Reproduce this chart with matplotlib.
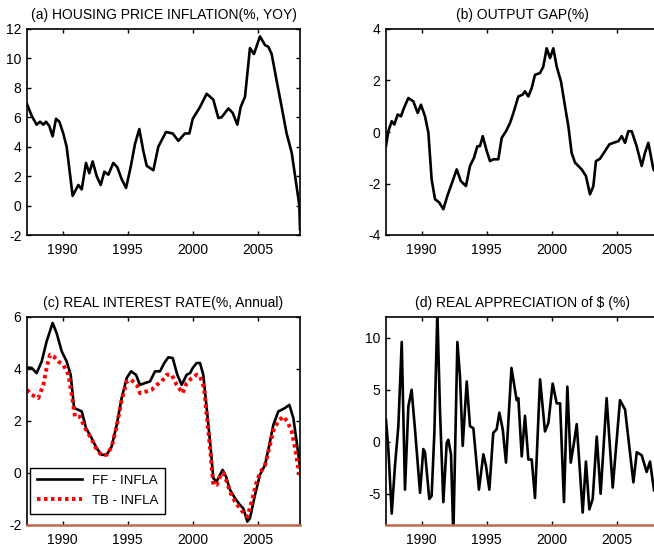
import numpy as np
import matplotlib
matplotlib.use("Agg")
import matplotlib.pyplot as plt

plt.rcParams["font.family"] = ["Liberation Sans", "DejaVu Sans"]
plt.rcParams["axes.unicode_minus"] = False

# (a) housing price inflation
a_years = [1987.25, 1987.61, 1987.99, 1988.25, 1988.51, 1988.71, 1988.97, 1989.22, 1989.48, 1989.74,
           1990.04, 1990.3, 1990.76, 1991.2, 1991.46, 1991.79, 1992.04, 1992.3, 1992.61, 1992.92,
           1993.2, 1993.51, 1993.89, 1994.2, 1994.53, 1994.87, 1995.22, 1995.56, 1995.89, 1996.2,
           1996.46, 1996.97, 1997.35, 1997.94, 1998.46, 1998.89, 1999.4, 1999.74, 2000.0, 2000.56,
           2001.07, 2001.58, 2001.97, 2002.22, 2002.74, 2003.07, 2003.43, 2003.69, 2004.02, 2004.4,
           2004.71, 2005.17, 2005.56, 2005.81, 2006.07, 2006.45, 2006.84, 2007.22, 2007.61, 2007.99,
           2008.2, 2008.25]
a_vals = [6.9, 6.1, 5.5, 5.7, 5.5, 5.7, 5.4, 4.7, 5.9, 5.7,
          4.9, 4.0, 0.66, 1.4, 1.1, 2.9, 2.2, 3.0, 2.0, 1.4,
          2.3, 2.1, 2.9, 2.6, 1.8, 1.2, 2.6, 4.2, 5.2, 3.7,
          2.7, 2.4, 4.0, 5.0, 4.9, 4.4, 4.9, 4.9, 5.9, 6.7,
          7.6, 7.2, 5.95, 6.0, 6.6, 6.3, 5.5, 6.7, 7.4, 10.7,
          10.3, 11.5, 10.9, 10.8, 10.3, 8.5, 6.7, 4.9, 3.6, 1.3,
          0.0, -1.6]

# (b) output gap
b_years = [1987.25, 1987.43, 1987.69, 1987.89, 1988.15, 1988.4, 1988.63, 1988.97, 1989.35, 1989.69,
           1989.94, 1990.25, 1990.51, 1990.76, 1991.02, 1991.35, 1991.66, 1991.97, 1992.38, 1992.69,
           1993.0, 1993.4, 1993.71, 1994.02, 1994.28, 1994.48, 1994.69, 1995.0, 1995.25, 1995.51,
           1995.89, 1996.15, 1996.48, 1996.79, 1997.05, 1997.43, 1997.76, 1997.94, 1998.2, 1998.46,
           1998.71, 1999.1, 1999.35, 1999.61, 1999.87, 2000.12, 2000.38, 2000.71, 2001.02, 2001.28,
           2001.53, 2001.79, 2002.3, 2002.63, 2002.94, 2003.2, 2003.4, 2003.71, 2004.1, 2004.43,
           2004.74, 2005.12, 2005.38, 2005.64, 2005.89, 2006.15, 2006.53, 2006.92, 2007.17, 2007.43,
           2007.82, 2008.05, 2008.25]
b_vals = [-0.55, 0.03, 0.42, 0.29, 0.68, 0.61, 0.93, 1.32, 1.19, 0.74,
          1.06, 0.61, -0.03, -1.84, -2.61, -2.74, -3.0, -2.48, -1.9, -1.45,
          -1.9, -2.1, -1.32, -1.0, -0.55, -0.55, -0.16, -0.74, -1.13, -1.06,
          -1.06, -0.23, 0.03, 0.35, 0.74, 1.38, 1.45, 1.58, 1.38, 1.71,
          2.22, 2.29, 2.54, 3.25, 2.87, 3.25, 2.54, 1.96, 1.0, 0.22,
          -0.81, -1.19, -1.45, -1.71, -2.42, -2.1, -1.13, -1.04, -0.74, -0.48,
          -0.42, -0.36, -0.16, -0.42, 0.03, 0.03, -0.55, -1.32, -0.81, -0.42,
          -1.45, -1.6, -1.9]

# (c) real interest rate
ff_years = [1987.25, 1987.61, 1987.99, 1988.38, 1988.76, 1989.22, 1989.53, 1989.92, 1990.3, 1990.61,
            1990.87, 1991.2, 1991.46, 1991.79, 1992.22, 1992.61, 1992.99, 1993.38, 1993.76, 1994.15,
            1994.53, 1994.92, 1995.25, 1995.63, 1995.94, 1996.33, 1996.71, 1997.1, 1997.48, 1997.81,
            1998.12, 1998.46, 1998.81, 1999.15, 1999.53, 1999.79, 2000.0, 2000.3, 2000.56, 2000.81,
            2001.07, 2001.33, 2001.58, 2001.84, 2002.1, 2002.3, 2002.56, 2002.87, 2003.25, 2003.63,
            2003.89, 2004.2, 2004.4, 2004.79, 2005.17, 2005.56, 2005.89, 2006.2, 2006.58, 2006.84,
            2007.1, 2007.43, 2007.74, 2007.99, 2008.2, 2008.25]
ff_vals = [4.06, 4.04, 3.84, 4.29, 5.06, 5.77, 5.38, 4.68, 4.29, 3.78,
           2.5, 2.43, 2.37, 1.73, 1.34, 0.95, 0.7, 0.7, 1.02, 1.85,
           2.88, 3.65, 3.91, 3.78, 3.39, 3.46, 3.52, 3.91, 3.91, 4.23,
           4.45, 4.42, 3.78, 3.39, 3.78, 3.84, 4.04, 4.23, 4.23, 3.78,
           2.5, 1.21, -0.2, -0.33, -0.07, 0.12, -0.14, -0.65, -0.97, -1.23,
           -1.36, -1.87, -1.74, -0.84, -0.07, 0.31, 1.08, 1.85, 2.37, 2.43,
           2.5, 2.62, 2.11, 1.21, 0.44, 0.18]
tb_years = [1987.25, 1987.61, 1988.12, 1988.51, 1988.76, 1989.02, 1989.28, 1989.66, 1990.04, 1990.43,
            1990.69, 1990.94, 1991.33, 1991.71, 1992.22, 1992.61, 1992.99, 1993.38, 1993.76, 1994.15,
            1994.53, 1994.92, 1995.25, 1995.69, 1995.94, 1996.46, 1996.84, 1997.23, 1997.61, 1998.0,
            1998.38, 1998.76, 1999.23, 1999.53, 1999.92, 2000.3, 2000.56, 2000.87, 2001.07, 2001.33,
            2001.58, 2001.84, 2002.15, 2002.35, 2002.61, 2002.92, 2003.25, 2003.63, 2004.02, 2004.2,
            2004.53, 2004.92, 2005.17, 2005.56, 2005.94, 2006.25, 2006.66, 2006.97, 2007.28, 2007.61,
            2007.87, 2008.12, 2008.25]
tb_vals = [3.2, 3.01, 2.88, 3.39, 4.04, 4.55, 4.49, 4.29, 4.16, 3.78,
           3.01, 2.17, 2.17, 1.73, 1.3, 0.9, 0.68, 0.7, 1.0, 1.8,
           2.8, 3.52, 3.59, 3.39, 3.07, 3.14, 3.2, 3.39, 3.52, 3.78,
           3.78, 3.39, 3.07, 3.46, 3.65, 3.78, 3.72, 3.27, 2.24, 0.96,
           -0.46, -0.46, -0.07, 0.0, -0.33, -0.78, -1.1, -1.36, -1.61, -1.68,
           -1.1, -0.33, 0.0, 0.31, 1.08, 1.72, 2.04, 2.17, 1.98, 1.6,
           0.96, 0.18, -0.2]

# (d) real appreciation of $
d_years = [1987.25, 1987.43, 1987.69, 1987.94, 1988.2, 1988.46, 1988.71, 1988.97, 1989.22, 1989.48,
           1989.87, 1990.12, 1990.25, 1990.58, 1990.76, 1990.97, 1991.2, 1991.4, 1991.66, 1991.92,
           1992.04, 1992.25, 1992.43, 1992.74, 1992.94, 1993.15, 1993.46, 1993.71, 1993.97, 1994.4,
           1994.74, 1994.94, 1995.2, 1995.5, 1995.76, 1995.97, 1996.23, 1996.48, 1996.9, 1997.3,
           1997.43, 1997.69, 1997.94, 1998.2, 1998.46, 1998.71, 1999.1, 1999.48, 1999.74, 2000.07,
           2000.38, 2000.64, 2000.94, 2001.2, 2001.46, 2001.71, 2001.92, 2002.38, 2002.63, 2002.89,
           2003.15, 2003.46, 2003.76, 2004.22, 2004.69, 2005.25, 2005.64, 2006.28, 2006.54, 2006.92,
           2007.3, 2007.56, 2007.87, 2008.25]
d_vals = [2.1, -0.7, -6.9, -2.3, 1.5, 9.6, -4.6, 3.4, 5.0, 1.2,
          -4.9, -0.7, -1.0, -5.5, -5.2, 0.86, 12.5, 3.1, -5.8, -0.1,
          0.2, -1.2, -9.0, 9.6, 6.3, -0.4, 5.8, 1.5, 1.3, -4.6,
          -1.2, -2.3, -4.6, 0.86, 1.2, 2.8, 1.2, -2.0, 7.1, 4.0,
          4.2, -1.4, 2.5, -1.7, -1.7, -5.4, 6.0, 1.0, 1.8, 5.6,
          3.7, 3.7, -5.8, 5.3, -2.0, -0.1, 1.7, -6.8, -1.9, -6.5,
          -5.5, 0.5, -5.0, 4.2, -4.4, 4.0, 3.1, -3.9, -1.0, -1.3,
          -2.9, -1.9, -4.7, -3.5]

titles = ["(a) HOUSING PRICE INFLATION(%, YOY)", "(b) OUTPUT GAP(%)",
          "(c) REAL INTEREST RATE(%, Annual)", "(d) REAL APPRECIATION of $ (%)"]
year_ticks = [1990, 1995, 2000, 2005]

W, H = 654, 545
fig = plt.figure(figsize=(W / 100, H / 100), dpi=100)
fig.patch.set_facecolor("white")

def px_axes(l, t, r, b):
    return fig.add_axes([l / W, 1 - b / H, (r - l) / W, (b - t) / H])

def style(ax, title, yticks, ylim):
    ax.set_xlim(1987.25, 2008.25)
    ax.set_ylim(*ylim)
    ax.set_xticks(year_ticks)
    ax.set_yticks(yticks)
    ax.tick_params(direction="in", length=3, width=1, top=True, right=True,
                   labelsize=10, pad=4)
    ax.tick_params(axis="x", pad=6)
    for s in ax.spines.values():
        s.set_linewidth(1.2)
    ax.set_title(title, fontsize=10, pad=7)

ax_a = px_axes(27, 29, 300, 235)
ax_b = px_axes(386, 29, 659, 235)
ax_c = px_axes(27, 317, 300, 525)
ax_d = px_axes(386, 317, 659, 525)

ax_a.plot(a_years, a_vals, color="black", lw=1.9)
style(ax_a, titles[0], [-2, 0, 2, 4, 6, 8, 10, 12], (-2, 12))

ax_b.plot(b_years, b_vals, color="black", lw=1.9)
style(ax_b, titles[1], [-4, -2, 0, 2, 4], (-4, 4))

ax_c.plot(ff_years, ff_vals, color="black", lw=1.9, label="FF - INFLA")
ax_c.plot(tb_years, tb_vals, color="red", lw=2.8, ls=(0, (0.9, 0.9)), label="TB - INFLA")
style(ax_c, titles[2], [-2, 0, 2, 4, 6], (-2, 6))
leg = ax_c.legend(loc="lower left", bbox_to_anchor=(0.012, 0.055), fontsize=9.5,
                  frameon=True, fancybox=False, edgecolor="black", framealpha=1,
                  handlelength=3.4, borderaxespad=0, borderpad=0.5, labelspacing=0.6)
leg.get_frame().set_linewidth(1.0)
ax_c.spines["bottom"].set_color("#c06a4a")
ax_c.spines["bottom"].set_linewidth(1.8)

ax_d.plot(d_years, d_vals, color="black", lw=1.9)
style(ax_d, titles[3], [-5, 0, 5, 10], (-8, 12))
ax_d.spines["bottom"].set_color("#c06a4a")
ax_d.spines["bottom"].set_linewidth(1.8)

fig.savefig("out.png", dpi=100)
